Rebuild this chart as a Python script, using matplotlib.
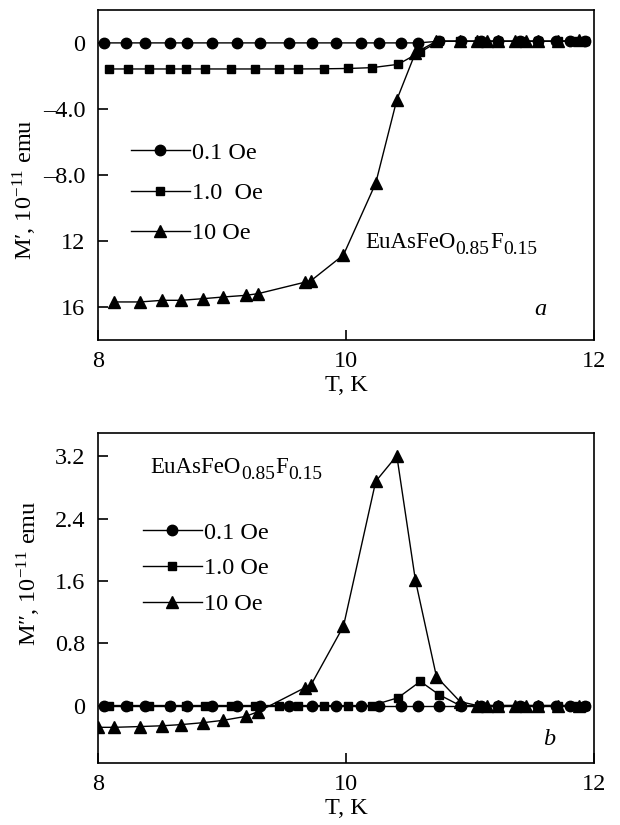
import matplotlib
matplotlib.use('Agg')
import matplotlib.pyplot as plt
from matplotlib.ticker import FixedLocator, FixedFormatter

plt.rcParams['font.family'] = ['Liberation Serif', 'DejaVu Serif']
plt.rcParams['mathtext.fontset'] = 'stix'
plt.rcParams['font.size'] = 17.5

# temperatures, K
t_circ = [8.05, 8.23, 8.38, 8.58, 8.72, 8.92, 9.12, 9.31, 9.54, 9.73, 9.92, 10.12,
          10.27, 10.44, 10.58, 10.75, 10.93, 11.09, 11.23, 11.40, 11.55, 11.69, 11.81, 11.93]
t_sq = [8.09, 8.24, 8.41, 8.58, 8.71, 8.86, 9.07, 9.27, 9.46, 9.61, 9.82, 10.02,
        10.21, 10.42, 10.60, 10.75, 10.92, 11.07, 11.23, 11.40, 11.55, 11.71, 11.84, 11.93]
t_tri = [8.13, 8.34, 8.52, 8.67, 8.85, 9.01, 9.19, 9.29, 9.67, 9.72, 9.98, 10.24,
         10.41, 10.56, 10.73, 10.92, 11.06, 11.14, 11.23, 11.36, 11.45, 11.55, 11.71, 11.88]
t_tri_b = [8.0] + t_tri

# M' (panel a), 1e-11 emu
m1_circ = [0, 0, 0, 0, 0, 0, 0, 0, 0, 0, 0, 0, 0, 0, 0.0,
           0.1, 0.1, 0.1, 0.1, 0.1, 0.1, 0.1, 0.1, 0.1]
m1_sq = [-1.58, -1.58, -1.58, -1.58, -1.58, -1.58, -1.58, -1.58, -1.58, -1.58, -1.57, -1.55,
         -1.5, -1.3, -0.55, 0.1, 0.1, 0.1, 0.1, 0.1, 0.1, 0.1, 0.1, 0.1]
m1_tri = [-15.7, -15.7, -15.6, -15.6, -15.5, -15.4, -15.3, -15.2, -14.5, -14.4, -12.85, -8.5,
          -3.45, -0.6, 0.1, 0.1, 0.1, 0.1, 0.1, 0.1, 0.1, 0.1, 0.1, 0.15]

# M'' (panel b), 1e-11 emu
m2_circ = [0, 0, 0, 0, 0, 0, 0, 0, 0, 0, 0, 0, 0, 0, 0, 0, 0, 0, 0, 0, 0, 0, 0, 0]
m2_sq = [0, 0, 0, 0, 0, 0, 0, 0, 0, 0, 0, 0, 0, 0.1, 0.31, 0.14, 0.0, 0, 0, 0, 0, 0, 0, 0]
m2_tri = [-0.28, -0.28, -0.27, -0.26, -0.245, -0.22, -0.19, -0.14, -0.08, 0.23, 0.27, 1.02, 2.88,
          3.21, 1.61, 0.37, 0.05, 0, 0, 0, 0, 0, 0, 0, 0]

labels_a = ['0.1 Oe', '1.0  Oe', '10 Oe']
labels_b = ['0.1 Oe', '1.0 Oe', '10 Oe']
yticks_a = [0, -4, -8, -12, -16]
yticklabels_a = ['0', '\u20134.0', '\u20138.0', '12', '16']
yticks_b = [0, 0.8, 1.6, 2.4, 3.2]
yticklabels_b = ['0', '0.8', '1.6', '2.4', '3.2']


def compound(ax, x, y):
    # EuAsFeO_{0.85}F_{0.15} with large subscripts
    main = ax.text(x, y, 'EuAsFeO', transform=ax.transAxes, ha='left', va='baseline',
                   fontsize=16.5)
    s1 = ax.annotate('0.85', xy=(1, 0), xycoords=main, xytext=(0.3, -3.8),
                     textcoords='offset points', fontsize=14, va='bottom', ha='left')
    f = ax.annotate('F', xy=(1, 0), xycoords=s1, xytext=(0.3, 3.8),
                    textcoords='offset points', fontsize=16.5, va='bottom', ha='left')
    ax.annotate('0.15', xy=(1, 0), xycoords=f, xytext=(0.3, -3.8),
                textcoords='offset points', fontsize=14, va='bottom', ha='left')


fig = plt.figure(figsize=(6.2, 8.25), dpi=100)
ax1 = fig.add_axes([0.158, 0.588, 0.800, 0.400])
ax2 = fig.add_axes([0.158, 0.075, 0.800, 0.400])

style = dict(color='black', lw=1.0)
for ax, series, labels in [
    (ax1, [(t_circ, m1_circ), (t_sq, m1_sq), (t_tri, m1_tri)], labels_a),
    (ax2, [(t_circ, m2_circ), (t_sq, m2_sq), (t_tri_b, m2_tri)], labels_b),
]:
    ax.plot(series[0][0], series[0][1], marker='o', ms=7.5, label=labels[0], **style)
    ax.plot(series[1][0], series[1][1], marker='s', ms=6.3, label=labels[1], **style)
    ax.plot(series[2][0], series[2][1], marker='^', ms=8.5, label=labels[2], **style)
    ax.set_xlim(8, 12)
    ax.set_xticks([8, 10, 12])
    ax.set_xticklabels(['8', '10', '12'])
    ax.tick_params(direction='in', length=7.5, width=1.2, pad=8)
    ax.tick_params(axis='y', pad=9)
    for s in ax.spines.values():
        s.set_linewidth(1.2)
    ax.set_xlabel('T, K', labelpad=2)

ax1.set_ylim(-18, 2)
ax1.yaxis.set_major_locator(FixedLocator(yticks_a))
ax1.yaxis.set_major_formatter(FixedFormatter(yticklabels_a))
ax1.set_ylabel('M\u2032, 10$^{\\mathregular{\u221211}}$ emu')
ax1.yaxis.set_label_coords(-0.118, 0.455)
ax1.legend(loc='center left', bbox_to_anchor=(0.066, 0.445), frameon=False,
           borderpad=0, borderaxespad=0, handlelength=2.43, handletextpad=0.1,
           labelspacing=0.75, numpoints=1)
compound(ax1, 0.538, 0.279)
ax1.text(0.891, 0.076, 'a', transform=ax1.transAxes, ha='center', va='baseline',
         style='italic')

ax2.set_ylim(-0.74, 3.5)
ax2.yaxis.set_major_locator(FixedLocator(yticks_b))
ax2.yaxis.set_major_formatter(FixedFormatter(yticklabels_b))
ax2.set_ylabel('M\u2033, 10$^{\\mathregular{\u221211}}$ emu')
ax2.yaxis.set_label_coords(-0.11, 0.576)
ax2.legend(loc='center left', bbox_to_anchor=(0.09, 0.59), frameon=False,
           borderpad=0, borderaxespad=0, handlelength=2.43, handletextpad=0.1,
           labelspacing=0.56, numpoints=1)
compound(ax2, 0.105, 0.879)
ax2.text(0.909, 0.055, 'b', transform=ax2.transAxes, ha='center', va='baseline',
         style='italic')

fig.savefig('out.png', dpi=100)
